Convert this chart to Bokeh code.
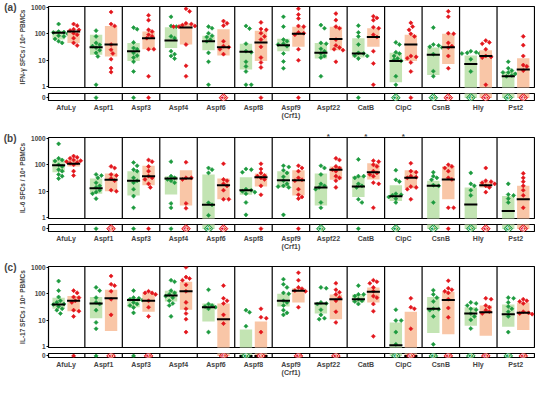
import numpy as np
from bokeh.plotting import figure
from bokeh.layouts import column
from bokeh.models import (Range1d, FixedTicker, Span, ColumnDataSource, LogAxis,
                          LinearAxis)
from bokeh.embed import file_html
from bokeh.resources import INLINE
from bokeh.core.properties import value

GROUPS = ["AfuLy", "Aspf1", "Aspf3", "Aspf4", "Aspf6", "Aspf8", "Aspf9\n(Crf1)",
          "Aspf22", "CatB", "CipC", "CsnB", "Hly", "Pst2"]

# ---------------- panel (a) IFN-gamma ----------------
IFN_G_VALUES = [
    [230, 120, 114, 111, 99, 84, 79, 63, 52, 45],
    [130, 79, 45, 38, 34, 30, 24, 19, 14, 1.2],
    [169, 147, 47, 29, 26, 19, 15, 12.6, 8.8, 3.8],
    [430, 195, 184, 79, 68, 22, 17, 14.5, 11.6],
    [184, 160, 104, 84, 75, 60, 52, 19, 8.8, 1.2],
    [195, 155, 42, 22, 20, 8.8, 5.9, 3.8, 1.2, 1.2],
    [430, 184, 60, 52, 42, 39, 34, 18, 9, 5],
    [210, 160, 45, 42, 27, 22, 18, 14.5, 12.6, 2.5],
    [200, 111, 79, 39, 19, 18, 15, 14.5, 11.6],
    [47, 39, 20, 18, 14.5, 11.6, 10.4, 9.5, 2.5, 1.2],
    [169, 39, 36, 32, 30, 17, 3.9, 2.5],
    [22, 20, 19, 18, 18, 11, 3.8],
    [8.8, 5, 4.1, 3.5, 3.5, 3.1, 2.7, 2.5],
]
IFN_G_Q1 = [60, 16, 9.5, 29, 24, 4.5, 22, 11.6, 12.6, 1.5, 2.8, 0, 0]
IFN_G_MED = [108, 31, 22, 56, 52, 21, 37, 19, 18, 9.5, 16, 7.2, 2.5]
IFN_G_Q3 = [130, 91, 45, 175, 84, 42, 65, 45, 68, 19, 30, 15, 3.8]
IFN_G_ZERO = [0, 1, 1, 0, 0, 0, 0, 0, 1, 2, 3, 4, 3]

IFN_R_VALUES = [
    [230, 200, 147, 139, 131, 104, 91, 68, 45, 36],
    [650, 230, 195, 39, 25, 18, 11, 5.1, 3.6],
    [490, 322, 139, 120, 91, 79, 68, 26, 26, 2.5],
    [865, 690, 244, 230, 210, 195, 184, 184, 39, 6.2, 2.5],
    [297, 244, 200, 52, 34, 31, 26, 17],
    [265, 150, 139, 104, 79, 60, 32, 12.6, 8.3, 5.4],
    [865, 520, 370, 195, 184, 111, 104, 91, 26, 10],
    [568, 322, 184, 160, 60, 36, 30, 26, 24, 8.8],
    [450, 390, 322, 175, 160, 91, 75, 22, 7.6, 1.2],
    [255, 184, 139, 99, 79, 14.5, 13.4, 12, 8.3, 3.8],
    [690, 430, 104, 99, 45, 34, 30, 14.5, 5],
    [55, 47, 42, 26, 14.5, 13.4, 12.6, 1.2],
    [79, 37, 14.5, 6.6, 5.9, 4.1],
]
IFN_R_Q1 = [45, 14, 26, 39, 15, 9.5, 32, 24, 32, 9.5, 7.2, 0, 0]
IFN_R_MED = [120, 39, 68, 170, 31, 47, 99, 63, 75, 39, 31, 14.5, 4.5]
IFN_R_Q3 = [128, 195, 120, 230, 147, 128, 184, 184, 160, 91, 99, 24, 12]
IFN_R_ZERO = [0, 0, 1, 0, 2, 1, 1, 0, 0, 1, 2, 3, 4]

# ---------------- panel (b) IL-6 ----------------
IL6_G_VALUES = [
    [605, 173, 150, 138, 99, 86, 65, 57, 43, 37, 30],
    [43, 39, 32, 21, 16, 14, 11, 9.3, 8.1, 5.3],
    [120, 91, 65, 57, 32, 25, 21, 12, 6.6, 2.4],
    [130, 37, 32, 28, 25, 21, 3.5, 2.4],
    [75, 65, 49, 3.7, 3.1, 1.25],
    [69, 65, 52, 12, 11, 10, 9.3, 8.1, 3.8, 1.3],
    [91, 82, 62, 49, 35, 25, 19, 16, 15, 14, 1.3],
    [91, 75, 43, 19, 16, 14, 12, 3.8, 2.4],
    [158, 37, 37, 32, 19, 16, 14, 5, 3.8],
    [62, 27, 23, 8.1, 7.4, 7, 6.1, 5.3, 3.8],
    [52, 37, 32, 27, 17, 16, 3.8],
    [49, 19, 16, 11, 7],
    [19, 7.6, 7, 5.3, 3.8],
]
IL6_G_Q1 = [52, 8.1, 7, 7.6, 0, 7.4, 14, 2.9, 6.1, 4.3, 0, 0, 0]
IL6_G_MED = [96, 13, 25, 30, 3.1, 11, 26, 14, 15, 6.5, 16, 3.2, 1.8]
IL6_G_Q3 = [158, 30, 57, 37, 43, 34, 57, 47, 37, 17, 25, 14, 6.6]
IL6_G_ZERO = [0, 1, 1, 1, 3, 0, 0, 2, 1, 2, 3, 5, 5]

IL6_R_VALUES = [
    [210, 188, 173, 150, 141, 130, 120, 113, 99, 57, 39],
    [86, 75, 43, 39, 30, 25, 11, 10],
    [150, 130, 86, 57, 37, 32, 28, 19, 14],
    [123, 32, 32, 28, 3.5, 2.3],
    [108, 28, 25, 19, 16, 11, 5, 5],
    [108, 69, 49, 39, 37, 32, 28, 16, 7.4],
    [91, 75, 57, 32, 27, 25, 12, 7.4, 6.1, 5.3],
    [173, 150, 86, 75, 65, 57, 37, 32, 25, 14],
    [141, 130, 99, 86, 57, 49, 43, 37, 21, 19, 2.4],
    [113, 57, 52, 37, 34, 32, 15, 14, 12, 5],
    [99, 86, 75, 57, 32, 28, 2.4, 2.4],
    [75, 25, 23, 21, 19, 16, 14, 9.3],
    [47, 32, 23, 16, 11, 7, 2.4],
]
IL6_R_Q1 = [86, 10, 17, 2.9, 5, 15, 7, 27, 28, 13, 5, 14, 0]
IL6_R_MED = [108, 27, 37, 30, 17, 34, 26, 65, 52, 32, 28, 17, 5]
IL6_R_Q3 = [158, 47, 91, 62, 30, 47, 62, 86, 113, 62, 86, 23, 16]
IL6_R_ZERO = [0, 6, 1, 4, 2, 1, 1, 0, 0, 0, 1, 3, 4]
IL6_STARS = {7: "*", 8: "*", 9: "*"}

# ---------------- panel (c) IL-17 ----------------
IL17_G_VALUES = [
    [297, 130, 75, 54, 47, 41, 39, 33, 27, 24, 18],
    [172, 130, 71, 47, 41, 24, 8.3, 4.8],
    [130, 71, 67, 62, 57, 47, 41, 36, 30, 19],
    [320, 280, 130, 107, 94, 81, 71, 54, 43, 36, 14],
    [140, 41, 36, 33, 31, 27, 3.6],
    [24, 20, 6],
    [350, 225, 172, 107, 99, 54, 47, 36, 24, 19, 16],
    [172, 160, 47, 43, 41, 25, 16, 12, 11],
    [200, 94, 94, 81, 62, 54, 51, 41],
    [25, 9.8, 9.8, 3.6, 1.25],
    [135, 94, 71, 51, 27, 26, 24, 14, 1.25],
    [47, 43, 36, 27, 25, 18, 14, 10.4, 4.9],
    [71, 67, 47, 33, 27, 21, 14, 3.6],
]
IL17_G_Q1 = [27, 12, 31, 51, 9, 0, 33, 18, 47, 0, 3.3, 6.3, 5.7]
IL17_G_MED = [39, 43, 58, 86, 31, 0, 54, 43, 62, 1.15, 27, 18, 17]
IL17_G_Q3 = [71, 75, 67, 130, 43, 4.5, 99, 46, 94, 8.3, 75, 31, 39]
IL17_G_ZERO = [0, 1, 1, 0, 0, 7, 0, 0, 0, 4, 2, 2, 3]

IL17_R_VALUES = [
    [130, 107, 75, 71, 54, 47, 24, 22, 14],
    [460, 225, 200, 123, 62, 16],
    [123, 107, 107, 94, 54, 31, 14],
    [980, 420, 370, 320, 215, 123, 47, 27, 18, 11, 3.6],
    [200, 67, 54, 43, 16, 7.5],
    [27, 13, 12, 3.6],
    [610, 320, 172, 154, 130, 123, 31],
    [245, 140, 113, 94, 71, 54, 21, 8.3],
    [320, 280, 245, 172, 123, 81, 71, 41, 22, 2.5],
    [67, 31, 27, 4.8],
    [305, 160, 140, 123, 107, 62, 29, 13],
    [67, 62, 36, 31, 24, 21, 18],
    [62, 54, 51, 43, 21, 19, 18, 17],
]
IL17_R_Q1 = [22, 4, 21, 25, 0, 0, 47, 11, 47, 0, 3, 2.6, 4.3]
IL17_R_MED = [54, 67, 54, 123, 11, 0, 130, 62, 117, 0, 58, 20, 19]
IL17_R_Q3 = [81, 141, 107, 280, 43, 9, 160, 94, 172, 21, 117, 36, 47]
IL17_R_ZERO = [1, 3, 3, 0, 4, 6, 3, 3, 0, 6, 3, 4, 3]

# ---------------- styling ----------------
FONT = "Liberation Sans"
GREEN = "#1c9a3e"
RED = "#e3161c"
GREEN_BOX = "#c3e4b3"
RED_BOX = "#f9c6a7"
W = 535
LB = 41
XR = (-0.47, 12.5)
YR = (0.95, 1050)
OFF = 0.2
HALF = 0.165
PPX = 38.0
PPD = 26.6
DOT = 2.9


def swarm(vals, center, dmin=3.8, step=1.8):
    placed = []
    out = [0.0] * len(vals)
    order = sorted(range(len(vals)), key=lambda i: -vals[i])
    ks = [0]
    for k in range(1, 9):
        ks += [k, -k]
    for i in order:
        y = np.log10(vals[i]) * PPD
        x = 0.0
        for k in ks:
            x = k * step
            if all((x - a) ** 2 + (y - b) ** 2 >= dmin ** 2 for a, b in placed):
                break
        placed.append((x, y))
        out[i] = center + x / PPX
    return out


def style_yaxis(ax):
    ax.axis_line_color = None
    ax.major_tick_out = 2
    ax.major_tick_in = 0
    ax.minor_tick_out = 0
    ax.minor_tick_in = 0
    ax.major_label_text_font = FONT
    ax.major_label_text_font_size = "6.5px"
    ax.major_label_text_font_style = "bold"
    ax.major_label_standoff = 1


def style(f):
    f.grid.visible = False
    f.outline_line_color = "black"
    f.outline_line_width = 1.2
    f.outline_line_alpha = 1.0
    style_yaxis(f.yaxis[0])
    for k in range(12):
        f.add_layout(Span(location=k + 0.5, dimension="height",
                          line_color="black", line_width=1.2))


def build_panel(tag, ylabel, series, top_border, main_h, strip_h, strip_bottom, stars=None):
    p = figure(width=W, height=main_h, x_range=Range1d(*XR), y_range=Range1d(*YR),
               y_axis_type="log", x_axis_location=None, output_backend="svg",
               toolbar_location=None, min_border_left=LB, min_border_right=1,
               min_border_top=top_border, min_border_bottom=3)
    s = figure(width=W, height=strip_h, x_range=p.x_range, y_range=Range1d(-0.8, 1.2),
               output_backend="svg", toolbar_location=None, min_border_left=LB,
               min_border_right=1, min_border_top=3, min_border_bottom=strip_bottom)
    style(p)
    style(s)
    p.yaxis[0].ticker = FixedTicker(ticks=[1, 10, 100, 1000])
    p.yaxis[0].major_label_overrides = {1: "1", 10: "10", 100: "100", 1000: "1000"}
    p.yaxis[0].axis_label = ylabel
    p.yaxis[0].axis_label_text_font = FONT
    p.yaxis[0].axis_label_text_font_size = "6.5px"
    p.yaxis[0].axis_label_text_font_style = "bold"
    p.yaxis[0].axis_label_standoff = 2

    tag_axis = LogAxis(ticker=FixedTicker(ticks=[1000]),
                       major_label_overrides={1000: tag})
    style_yaxis(tag_axis)
    tag_axis.major_tick_out = 0
    tag_axis.major_label_standoff = 0
    tag_axis.major_label_text_font_size = "10px"
    p.add_layout(tag_axis, "left")

    if stars:
        star_axis = LinearAxis(ticker=FixedTicker(ticks=list(stars.keys())),
                               major_label_overrides=dict(stars))
        star_axis.axis_line_color = None
        star_axis.major_tick_out = 0
        star_axis.major_tick_in = 0
        star_axis.minor_tick_out = 0
        star_axis.minor_tick_in = 0
        star_axis.major_label_standoff = -3
        star_axis.major_label_text_font = FONT
        star_axis.major_label_text_font_size = "8px"
        star_axis.major_label_text_font_style = "bold"
        p.add_layout(star_axis, "above")

    s.yaxis.ticker = FixedTicker(ticks=[0])
    s.xaxis.ticker = FixedTicker(ticks=list(range(13)))
    s.xaxis.major_label_overrides = {i: g for i, g in enumerate(GROUPS)}
    s.xaxis.axis_line_color = None
    s.xaxis.major_tick_out = 0
    s.xaxis.major_tick_in = 0
    s.xaxis.minor_tick_out = 0
    s.xaxis.minor_tick_in = 0
    s.xaxis.major_label_text_font = FONT
    s.xaxis.major_label_text_font_size = "7px"
    s.xaxis.major_label_text_font_style = "bold"
    s.xaxis.major_label_standoff = 3

    for sign, (vals, q1, med, q3, zero, col, boxcol) in zip((-1, 1), series):
        centers = [i + sign * OFF for i in range(13)]
        bx = dict(left=[], right=[], top=[], bottom=[])
        sb = dict(left=[], right=[], top=[], bottom=[])
        for i in range(13):
            bx["left"].append(centers[i] - HALF)
            bx["right"].append(centers[i] + HALF)
            bx["top"].append(q3[i])
            bx["bottom"].append(q1[i] if q1[i] > 0 else 0.3)
            if q1[i] == 0:
                sb["left"].append(centers[i] - HALF)
                sb["right"].append(centers[i] + HALF)
                sb["top"].append(2.0)
                sb["bottom"].append(-0.1)
        p.quad(source=ColumnDataSource(bx), left="left", right="right", top="top",
               bottom="bottom", fill_color=boxcol, line_color=None)
        s.quad(source=ColumnDataSource(sb), left="left", right="right", top="top",
               bottom="bottom", fill_color=boxcol, line_color=None)
        px, py = [], []
        for i in range(13):
            px += swarm(vals[i], centers[i])
            py += vals[i]
        p.scatter(px, py, marker="square", angle=np.pi / 4, size=DOT,
                  fill_color=col, line_color=col, line_width=0.6)
        mx0, mx1, my, zx0, zx1 = [], [], [], [], []
        for i in range(13):
            if med[i] > 0:
                mx0.append(centers[i] - HALF - 0.01)
                mx1.append(centers[i] + HALF + 0.01)
                my.append(med[i])
            else:
                zx0.append(centers[i] - HALF - 0.01)
                zx1.append(centers[i] + HALF + 0.01)
        p.segment(x0=mx0, x1=mx1, y0=my, y1=my, line_color="black", line_width=2)
        if zx0:
            s.segment(x0=zx0, x1=zx1, y0=[0] * len(zx0), y1=[0] * len(zx0),
                      line_color="black", line_width=2)
        sx, bxs, btxt = [], [], []
        for i in range(13):
            if zero[i] == 1:
                sx.append(centers[i])
            elif zero[i] > 1:
                bxs.append(centers[i])
                btxt.append(str(zero[i]))
        if sx:
            s.scatter(sx, [0] * len(sx), marker="square", angle=np.pi / 4, size=DOT,
                      fill_color=col, line_color=col, line_width=0.6)
        if bxs:
            s.scatter(bxs, [0] * len(bxs), marker="square", angle=np.pi / 4, size=6.2,
                      fill_color=col, line_color=col, line_width=0.8)
            s.scatter(bxs, [0] * len(bxs), marker="square", angle=np.pi / 4, size=4.3,
                      fill_color=col, line_color="white", line_width=0.8)
            s.text(bxs, [0] * len(bxs), text=btxt, text_color="white",
                   text_font=value(FONT), text_font_size="4.5px", text_font_style="bold",
                   text_align="center", text_baseline="middle")
    return p, s


pa, sa = build_panel(
    "(a)", "IFN-γ SFCs / 10⁶ PBMCs",
    [(IFN_G_VALUES, IFN_G_Q1, IFN_G_MED, IFN_G_Q3, IFN_G_ZERO, GREEN, GREEN_BOX),
     (IFN_R_VALUES, IFN_R_Q1, IFN_R_MED, IFN_R_Q3, IFN_R_ZERO, RED, RED_BOX)],
    6, 90, 31, 18)
pb, sb_ = build_panel(
    "(b)", "IL-6 SFCs / 10⁶ PBMCs",
    [(IL6_G_VALUES, IL6_G_Q1, IL6_G_MED, IL6_G_Q3, IL6_G_ZERO, GREEN, GREEN_BOX),
     (IL6_R_VALUES, IL6_R_Q1, IL6_R_MED, IL6_R_Q3, IL6_R_ZERO, RED, RED_BOX)],
    16, 100, 31, 18, IL6_STARS)
pc, sc = build_panel(
    "(c)", "IL-17 SFCs / 10⁶ PBMCs",
    [(IL17_G_VALUES, IL17_G_Q1, IL17_G_MED, IL17_G_Q3, IL17_G_ZERO, GREEN, GREEN_BOX),
     (IL17_R_VALUES, IL17_R_Q1, IL17_R_MED, IL17_R_Q3, IL17_R_ZERO, RED, RED_BOX)],
    14, 98, 28, 15)

layout = column(pa, sa, pb, sb_, pc, sc, spacing=0)
open("out.html", "w").write(file_html(layout, INLINE))
